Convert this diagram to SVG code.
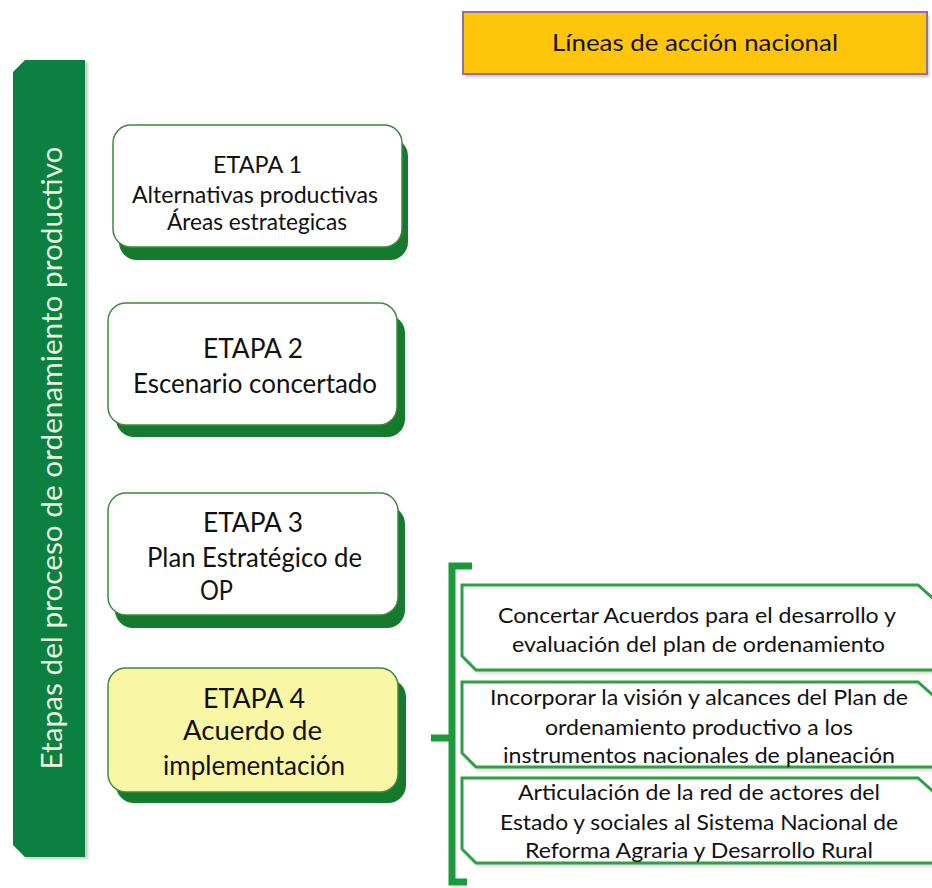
<svg xmlns="http://www.w3.org/2000/svg" width="932" height="888" viewBox="0 0 932 888">
<defs>
<style>
.t{font-family:Lato,"Open Sans","Liberation Sans",sans-serif;fill:#111;}
.s1{font-size:23px;}
.s2{font-size:27px;}
.r{font-size:21.5px;}
.box{fill:#fff;stroke:#3d8a3d;stroke-width:1.5;}
.sh{fill:#157a2e;}
.rb{fill:#fff;stroke:#2f9e44;stroke-width:3;}
.rbs{fill:#bbb;opacity:0.5;}
</style>
<filter id="blur" x="-5%" y="-5%" width="110%" height="120%"><feGaussianBlur stdDeviation="1.5"/></filter>
</defs>
<rect width="932" height="888" fill="#fff"/>

<g id="side-bar">
<path d="M27,62 H88 V859 H27 L15,847 V74 Z" fill="#999" opacity="0.5" filter="url(#blur)"/>
<path d="M25,60 H85 V857 H25 L13,845 V72 Z" fill="#0b8040"/>
<text class="t" transform="translate(62,458) rotate(-90)" text-anchor="middle" font-size="29" textLength="623" lengthAdjust="spacingAndGlyphs" style="fill:#e8f3e0">Etapas del proceso de ordenamiento productivo</text>
</g>

<g id="header">
<rect x="465" y="15" width="464" height="62" fill="#888" opacity="0.5" filter="url(#blur)"/>
<rect x="463" y="12" width="464" height="62" fill="#ffc50a" stroke="#8e6fa8" stroke-width="2"/>
<text class="t" x="552" y="51" font-size="24" textLength="286" lengthAdjust="spacingAndGlyphs">Líneas de acción nacional</text>
</g>

<g id="etapa1">
<rect class="sh" x="119" y="138" width="289" height="122" rx="18"/>
<rect class="box" x="113" y="125" width="289" height="122" rx="18"/>
<text class="t s1" x="213" y="173" textLength="89" lengthAdjust="spacingAndGlyphs">ETAPA 1</text>
<text class="t s1" x="132" y="203" textLength="246" lengthAdjust="spacingAndGlyphs">Alternativas productivas</text>
<text class="t s1" x="167" y="230" textLength="180" lengthAdjust="spacingAndGlyphs">Áreas estrategicas</text>
</g>

<g id="etapa2">
<rect class="sh" x="116" y="315" width="289" height="122" rx="18"/>
<rect class="box" x="108" y="303" width="289" height="122" rx="18"/>
<text class="t s2" x="203" y="358" textLength="100" lengthAdjust="spacingAndGlyphs">ETAPA 2</text>
<text class="t s2" x="133" y="393" textLength="244" lengthAdjust="spacingAndGlyphs">Escenario concertado</text>
</g>

<g id="etapa3">
<rect class="sh" x="115" y="506" width="290" height="122" rx="18"/>
<rect class="box" x="108" y="493" width="290" height="122" rx="18"/>
<text class="t s2" x="203" y="532" textLength="100" lengthAdjust="spacingAndGlyphs">ETAPA 3</text>
<text class="t s2" x="147" y="567" textLength="215" lengthAdjust="spacingAndGlyphs">Plan Estratégico de</text>
<text class="t s2" x="200" y="600" textLength="33" lengthAdjust="spacingAndGlyphs">OP</text>
</g>

<g id="etapa4">
<rect class="sh" x="116" y="679" width="290" height="124" rx="18"/>
<rect class="box" x="108" y="668" width="290" height="124" rx="18" style="fill:#f9f6a6"/>
<text class="t s2" x="203" y="708" textLength="102" lengthAdjust="spacingAndGlyphs">ETAPA 4</text>
<text class="t s2" x="183" y="740" textLength="139" lengthAdjust="spacingAndGlyphs">Acuerdo de</text>
<text class="t s2" x="163" y="775" textLength="182" lengthAdjust="spacingAndGlyphs">implementación</text>
</g>

<g id="linea1">
<path class="rbs" d="M464,589 H920 L938,605 V674 H478 L464,660 Z" filter="url(#blur)"/>
<path class="rb" d="M462,585 H918 L936,601 V670 H476 L462,656 Z"/>
<text class="t r" x="498" y="623" textLength="398" lengthAdjust="spacingAndGlyphs">Concertar Acuerdos para el desarrollo y</text>
<text class="t r" x="512" y="652" textLength="373" lengthAdjust="spacingAndGlyphs">evaluación del plan de ordenamiento</text>
</g>

<g id="linea2">
<path class="rbs" d="M464,686 H920 L938,702 V771 H478 L464,757 Z" filter="url(#blur)"/>
<path class="rb" d="M462,682 H918 L936,698 V767 H476 L462,753 Z"/>
<text class="t r" x="490" y="705" textLength="418" lengthAdjust="spacingAndGlyphs">Incorporar la visión y alcances del Plan de</text>
<text class="t r" x="545" y="735" textLength="308" lengthAdjust="spacingAndGlyphs">ordenamiento productivo a los</text>
<text class="t r" x="503" y="763" textLength="392" lengthAdjust="spacingAndGlyphs">instrumentos nacionales de planeación</text>
</g>

<g id="linea3">
<path class="rbs" d="M464,782 H920 L938,798 V867 H478 L464,853 Z" filter="url(#blur)"/>
<path class="rb" d="M462,778 H918 L936,794 V863 H476 L462,849 Z"/>
<text class="t r" x="518" y="800" textLength="362" lengthAdjust="spacingAndGlyphs">Articulación de la red de actores del</text>
<text class="t r" x="500" y="830" textLength="398" lengthAdjust="spacingAndGlyphs">Estado y sociales al Sistema Nacional de</text>
<text class="t r" x="525" y="858" textLength="348" lengthAdjust="spacingAndGlyphs">Reforma Agraria y Desarrollo Rural</text>
</g>

<g id="connectors">
<path d="M472,566 H452 V882 H467 M452,738 H431" fill="none" stroke="#1b9a3c" stroke-width="7"/>
</g>
</svg>
